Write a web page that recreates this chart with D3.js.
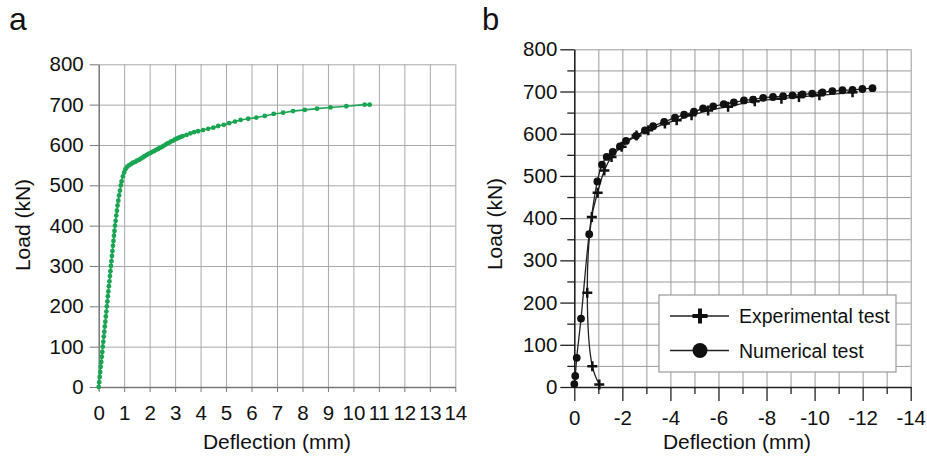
<!DOCTYPE html>
<html>
<head>
<meta charset="utf-8">
<script src="https://cdn.jsdelivr.net/npm/d3@7"></script>
<style>
body { margin: 0; background: #fff; }
svg text { font-family: "Liberation Sans", Arial, sans-serif; fill: #111; }
</style>
</head>
<body>
<svg id="chart" width="927" height="459"></svg>
<script>
// panel a - green curve
var aDefl = [0, 0.02, 0.04, 0.06, 0.08, 0.1, 0.12, 0.14, 0.16, 0.18, 0.2, 0.22, 0.24, 0.26, 0.28, 0.3, 0.32, 0.34, 0.36, 0.38, 0.4, 0.42, 0.44, 0.46, 0.48, 0.5, 0.52, 0.54, 0.56, 0.58, 0.6, 0.62, 0.64, 0.665, 0.69, 0.715, 0.74, 0.77, 0.8, 0.835, 0.87, 0.9, 0.95, 1.0, 1.05, 1.12, 1.2, 1.28, 1.35, 1.43, 1.5, 1.58, 1.65, 1.73, 1.8, 1.88, 1.95, 2.03, 2.1, 2.18, 2.25, 2.33, 2.4, 2.48, 2.55, 2.63, 2.7, 2.78, 2.85, 2.93, 3.0, 3.08, 3.15, 3.23, 3.3, 3.45, 3.6, 3.75, 3.9, 4.1, 4.3, 4.5, 4.69, 4.91, 5.12, 5.35, 5.57, 5.87, 6.19, 6.52, 6.87, 7.24, 7.63, 8.09, 8.57, 9.1, 9.72, 10.44, 10.64];
var aLoad = [0, 12, 25, 37, 50, 62, 75, 87, 100, 112, 125, 137, 150, 162, 175, 187, 200, 212, 225, 237, 250, 262, 275, 287, 300, 312, 325, 337, 350, 362, 375, 387, 400, 412, 425, 437, 450, 462, 475, 487, 500, 510, 522, 532, 540, 546, 550, 553, 556, 558, 561, 563, 566, 569, 572, 575, 578, 580, 583, 585, 588, 590, 593, 595, 598, 601, 604, 606, 609, 611, 614, 616, 618, 620, 622, 625, 629, 632, 634, 637, 640, 643, 647, 650, 654, 658, 662, 665, 668, 672, 677, 680, 684, 687, 690, 693, 696, 700, 700];
var aXTicks = [0, 1, 2, 3, 4, 5, 6, 7, 8, 9, 10, 11, 12, 13, 14];
var yTicks = [0, 100, 200, 300, 400, 500, 600, 700, 800];

// panel b - experimental (+) and numerical (circles)
var expDefl = [-1.04, -0.75, -0.54, -0.73, -0.97, -1.25, -1.55, -1.97, -2.59, -3.08, -3.77, -4.26, -4.88, -5.57, -6.4, -7.51, -8.62, -9.35, -10.2, -11.58];
var expLoad = [6, 49, 223, 403, 460, 513, 545, 569, 596, 608, 624, 632, 644, 655, 664, 677, 683, 687, 691, 698];
var numDefl = [0, -0.04, -0.1, -0.28, -0.62, -0.96, -1.15, -1.35, -1.6, -1.9, -2.15, -2.57, -2.94, -3.28, -3.74, -4.19, -4.57, -4.98, -5.36, -5.78, -6.22, -6.64, -7.06, -7.44, -7.86, -8.27, -8.69, -9.08, -9.5, -9.9, -10.33, -10.74, -11.16, -11.58, -11.99, -12.41];
var numLoad = [7, 26, 69, 162, 362, 487, 527, 545, 557, 570, 583, 595, 608, 618, 628, 638, 645, 652, 660, 665, 670, 674, 679, 681, 685, 687, 689, 691, 693, 695, 698, 701, 703, 704, 706, 708];
var bXTicks = [0, -2, -4, -6, -8, -10, -12, -14];
var legendLabels = ["Experimental test", "Numerical test"];

var svg = d3.select("#chart");
var green = "#1aa552";
var tickFont = 20.5, titleFont = 21;

function zip(xs, ys) {
	return xs.map(function(d, i) { return {x: d, y: ys[i]}; });
}

// ---------- panel a ----------
var xa = d3.scaleLinear().domain([0, 14]).range([98.7, 455.3]);
var ya = d3.scaleLinear().domain([0, 800]).range([387, 64.3]);
var ga = svg.append("g");

ga.append("g")
	.attr("transform", "translate(0,387)")
	.call(d3.axisBottom(xa).tickValues(d3.range(1, 15)).tickSize(-(387 - 64.3)).tickFormat(""))
	.call(function(g) { g.select(".domain").remove(); })
	.selectAll("line").attr("stroke", "#a8a8a8");
ga.append("g")
	.attr("transform", "translate(98.7,0)")
	.call(d3.axisLeft(ya).tickValues(d3.range(100, 900, 100)).tickSize(-(455.3 - 98.7)).tickFormat(""))
	.call(function(g) { g.select(".domain").remove(); })
	.selectAll("line").attr("stroke", "#a8a8a8");

var axA = ga.append("g")
	.attr("transform", "translate(0,387)")
	.call(d3.axisBottom(xa).tickValues(aXTicks).tickSize(5).tickPadding(13).tickSizeOuter(0).tickFormat(function(d) { return String(d); }));
var ayA = ga.append("g")
	.attr("transform", "translate(98.7,0)")
	.call(d3.axisLeft(ya).tickValues(yTicks).tickSize(9).tickPadding(6).tickSizeOuter(0).tickFormat(function(d) { return String(d); }));
[axA, ayA].forEach(function(ax) {
	ax.select(".domain").attr("stroke", "#777").attr("stroke-width", 1.5);
	ax.selectAll("line").attr("stroke", "#777");
	ax.selectAll("text").attr("font-size", tickFont).attr("fill", "#111");
});

var lineA = d3.line().x(function(d) { return xa(d.x); }).y(function(d) { return ya(d.y); });
var dataA = zip(aDefl, aLoad);
ga.append("path").datum(dataA)
	.attr("fill", "none").attr("stroke", green).attr("stroke-width", 1.6)
	.attr("d", lineA);
ga.selectAll("circle.pa").data(dataA).enter().append("circle")
	.attr("class", "pa")
	.attr("cx", function(d) { return xa(d.x); })
	.attr("cy", function(d) { return ya(d.y); })
	.attr("r", 2.4).attr("fill", green);

ga.append("text").attr("x", 277).attr("y", 448.5).attr("text-anchor", "middle").attr("font-size", titleFont).text("Deflection (mm)");
ga.append("text").attr("transform", "translate(30,225) rotate(-90)").attr("text-anchor", "middle").attr("font-size", titleFont).text("Load (kN)");
ga.append("text").attr("x", 9).attr("y", 29.5).attr("font-size", 32).text("a");

// ---------- panel b ----------
var xb = d3.scaleLinear().domain([0, -14]).range([574.3, 910.7]);
var yb = d3.scaleLinear().domain([0, 800]).range([387, 49.3]);
var gb = svg.append("g");

gb.append("g")
	.attr("transform", "translate(0,387)")
	.call(d3.axisBottom(xb).tickValues(d3.range(-1, -15, -1)).tickSize(-(387 - 49.3)).tickFormat(""))
	.call(function(g) { g.select(".domain").remove(); })
	.selectAll("line").attr("stroke", "#9a9a9a");
gb.append("g")
	.attr("transform", "translate(574.3,0)")
	.call(d3.axisLeft(yb).tickValues(d3.range(50, 850, 50)).tickSize(-(910.7 - 574.3)).tickFormat(""))
	.call(function(g) { g.select(".domain").remove(); })
	.selectAll("line").attr("stroke", "#9a9a9a");

// minor ticks
gb.append("g")
	.attr("transform", "translate(0,387)")
	.call(d3.axisBottom(xb).tickValues(d3.range(-1, -15, -2)).tickSize(7).tickFormat(""))
	.call(function(g) { g.select(".domain").remove(); })
	.selectAll("line").attr("stroke", "#222").attr("stroke-width", 1.3);
gb.append("g")
	.attr("transform", "translate(574.3,0)")
	.call(d3.axisLeft(yb).tickValues(d3.range(50, 850, 100)).tickSize(7).tickFormat(""))
	.call(function(g) { g.select(".domain").remove(); })
	.selectAll("line").attr("stroke", "#222").attr("stroke-width", 1.3);

var axB = gb.append("g")
	.attr("transform", "translate(0,387)")
	.call(d3.axisBottom(xb).tickValues(bXTicks).tickSize(14).tickPadding(9).tickSizeOuter(0).tickFormat(function(d) { return String(d); }));
var ayB = gb.append("g")
	.attr("transform", "translate(574.3,0)")
	.call(d3.axisLeft(yb).tickValues(yTicks).tickSize(14).tickPadding(3).tickSizeOuter(0).tickFormat(function(d) { return String(d); }));
[axB, ayB].forEach(function(ax) {
	ax.select(".domain").attr("stroke", "#222").attr("stroke-width", 1.6);
	ax.selectAll("line").attr("stroke", "#222").attr("stroke-width", 1.3);
	ax.selectAll("text").attr("font-size", tickFont).attr("fill", "#111");
});

var lineB = d3.line().curve(d3.curveCatmullRom).x(function(d) { return xb(d.x); }).y(function(d) { return yb(d.y); });
var dataExp = zip(expDefl, expLoad);
var dataNum = zip(numDefl, numLoad);
gb.append("path").datum(dataExp).attr("fill", "none").attr("stroke", "#222").attr("stroke-width", 1.3).attr("d", lineB);
gb.append("path").datum(dataNum).attr("fill", "none").attr("stroke", "#222").attr("stroke-width", 1.3).attr("d", lineB);

function plus(g, cx, cy, s, w) {
	g.append("path")
		.attr("d", "M" + (cx - s) + "," + cy + "H" + (cx + s) + "M" + cx + "," + (cy - s) + "V" + (cy + s))
		.attr("stroke", "#111").attr("stroke-width", w).attr("fill", "none");
}
dataExp.forEach(function(d) { plus(gb, xb(d.x), yb(d.y), 5, 2.5); });
gb.selectAll("circle.nb").data(dataNum).enter().append("circle")
	.attr("class", "nb")
	.attr("cx", function(d) { return xb(d.x); })
	.attr("cy", function(d) { return yb(d.y); })
	.attr("r", 3.9).attr("fill", "#111");

// legend
var lg = gb.append("g");
lg.append("rect").attr("x", 659).attr("y", 295).attr("width", 237).attr("height", 77)
	.attr("fill", "#fff").attr("stroke", "#999").attr("stroke-width", 1.2);
[316, 350.5].forEach(function(y, i) {
	lg.append("line").attr("x1", 670).attr("x2", 729).attr("y1", y).attr("y2", y).attr("stroke", "#222").attr("stroke-width", 1.3);
	if (i === 0) plus(lg, 700, y, 7.5, 4);
	else lg.append("circle").attr("cx", 700).attr("cy", y).attr("r", 7.5).attr("fill", "#111");
	lg.append("text").attr("x", 739).attr("y", y + 7).attr("font-size", 19.5).text(legendLabels[i]);
});

gb.append("text").attr("x", 737).attr("y", 449).attr("text-anchor", "middle").attr("font-size", titleFont).text("Deflection (mm)");
gb.append("text").attr("transform", "translate(502,224) rotate(-90)").attr("text-anchor", "middle").attr("font-size", titleFont).text("Load (kN)");
gb.append("text").attr("x", 482).attr("y", 29.5).attr("font-size", 31).text("b");
</script>
</body>
</html>
